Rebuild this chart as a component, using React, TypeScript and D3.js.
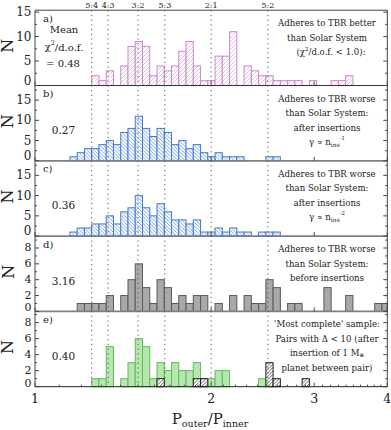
import React from "react";
import * as d3 from "d3";

// histogram bins: log-spaced, first bin starts at the 5:4 resonance
const binStart = -3;
const binLog = 0.0124;
const firstEdge = 1.25;

const countsA = [0, 0, 0, 2, 1, 3, 0, 4, 8, 9, 8, 2, 4, 3, 4, 7, 9, 4, 1, 1, 6, 6, 11, 0, 4, 3, 2, 2, 1, 1, 1, 1, 0, 1, 0, 0, 1, 1, 2, 0, 0, 0, 0, 0];
const countsB = [1, 2, 3, 3, 4, 5, 4, 7, 8, 11, 8, 6, 8, 7, 4, 5, 3, 4, 2, 1, 2, 1, 1, 1, 0, 0, 0, 1, 1, 0, 0, 0, 0, 0, 0, 0, 0, 0, 0, 0, 0, 0, 0, 0];
const countsC = [1, 2, 2, 3, 3, 5, 3, 6, 7, 10, 7, 5, 8, 6, 4, 4, 3, 4, 1, 1, 2, 1, 2, 1, 1, 0, 1, 1, 1, 0, 0, 0, 0, 0, 0, 0, 0, 0, 0, 0, 0, 0, 0, 0];
const countsD = [0, 1, 1, 1, 1, 2, 0, 2, 4, 6, 3, 1, 4, 3, 1, 2, 1, 2, 2, 0, 1, 0, 2, 0, 2, 1, 1, 4, 3, 0, 1, 1, 0, 0, 0, 3, 0, 0, 2, 0, 0, 0, 1, 1];
const countsE = [0, 0, 0, 1, 1, 5, 0, 1, 3, 6, 5, 1, 3, 2, 3, 2, 2, 3, 1, 1, 2, 2, 0, 0, 0, 0, 1, 0, 0, 0, 0, 0, 0, 0, 0, 0, 0, 0, 0, 0, 0, 0, 0, 0];
const countsEInserted = [0, 0, 0, 0, 0, 0, 0, 0, 0, 0, 0, 0, 1, 0, 0, 0, 0, 1, 1, 0, 0, 0, 0, 0, 0, 0, 0, 3, 1, 0, 0, 0, 1, 0, 0, 0, 0, 0, 0, 0, 0, 0, 0, 0];

const resonances = [5 / 4, 4 / 3, 3 / 2, 5 / 3, 2, 5 / 2];
const resonanceLabels = ["5:4", "4:3", "3:2", "5:3", "2:1", "5:2"];
const xTicks = [1, 2, 3, 4];
const meanChi = ["0.48", "0.27", "0.36", "3.16", "0.40"];

const left = 35;
const right = 387.3;
const top0 = 10.2;
const panelH = 75.3;
const serif = "DejaVu Serif";

const x = d3.scaleLog().domain([1, 4]).range([left, right]);
const edge = (k) => firstEdge * Math.pow(10, binLog * k);

const panels = [
  { id: "a", counts: countsA, yMax: 15.4, major: [0, 5, 10, 15], minor: 2.5, fill: "url(#hatchPink)", stroke: "#cf86cf", bottom: "#333", text: ["Adheres to TBR better", "than Solar System", "(χ²/d.o.f. < 1.0):"] },
  { id: "b", counts: countsB, yMax: 18.6, major: [0, 5, 10, 15], minor: 2.5, fill: "url(#hatchBlue)", stroke: "#3f7bd6", bottom: "#808080", text: ["Adheres to TBR worse", "than Solar System:", "after insertions", "gamma1"] },
  { id: "c", counts: countsC, yMax: 18.6, major: [0, 5, 10, 15], minor: 2.5, fill: "url(#hatchBlue)", stroke: "#3f7bd6", bottom: "#808080", text: ["Adheres to TBR worse", "than Solar System:", "after insertions", "gamma2"] },
  { id: "d", counts: countsD, yMax: 9.5, major: [0, 2, 4, 6, 8], minor: 1, fill: "#a9a9a9", stroke: "#5a5a5a", bottom: "#808080", text: ["Adheres to TBR worse", "than Solar System:", "before insertions"] },
  { id: "e", counts: countsE, yMax: 9.4, major: [0, 2, 4, 6, 8], minor: 1, fill: "#b7e7ae", stroke: "#5cbd5c", bottom: "#222", text: ["'Most complete' sample:", "Pairs with Δ < 10 (after", "insertion of 1 M⊕", "planet between pair)"] },
];

const Bars = ({ counts, y, fill, stroke, bottom }) => (
  <g>
    {counts.map((c, i) => {
      if (!c) return null;
      const k = binStart + i;
      const x0 = x(edge(k));
      const x1 = Math.min(x(edge(k + 1)), right);
      return (
        <rect key={i} x={x0} y={y(c)} width={x1 - x0} height={bottom - y(c)}
          fill={fill} stroke={stroke} strokeWidth={1} />
      );
    })}
  </g>
);

const TextLine = ({ line, x0, y0 }) => {
  if (line === "gamma1" || line === "gamma2") {
    return (
      <text x={x0} y={y0} textAnchor="middle" dominantBaseline="central" fontSize={8.6} fontFamily={serif} fill="#222">
        γ ∝ n<tspan fontSize={6} dy={2}>ins</tspan>
        <tspan fontSize={5.5} dy={-6}>{line === "gamma1" ? "-1" : "-2"}</tspan>
      </text>
    );
  }
  if (line.startsWith("(χ²")) {
    return (
      <text x={x0 + 4} y={y0} textAnchor="middle" dominantBaseline="central" fontSize={8.6} fontFamily={serif} fill="#222">
        (χ<tspan fontSize={5.5} dy={-3}>2</tspan><tspan dy={3}>/d.o.f. &lt; 1.0):</tspan>
      </text>
    );
  }
  if (line.includes("M⊕")) {
    return (
      <text x={x0} y={y0} textAnchor="middle" dominantBaseline="central" fontSize={8.6} fontFamily={serif} fill="#222">
        insertion of 1 M<tspan fontSize={5.5} dy={2}>⊕</tspan>
      </text>
    );
  }
  return (
    <text x={x0} y={y0} textAnchor="middle" dominantBaseline="central" fontSize={8.6} fontFamily={serif} fill="#222">
      {line}
    </text>
  );
};

const Panel = ({ p, i }) => {
  const top = top0 + i * panelH;
  const bottom = top + panelH;
  const y = d3.scaleLinear().domain([0, p.yMax]).range([bottom, top]);
  const minorTicks = d3.range(0, p.yMax, p.minor);
  const xMinor = d3.range(1.1, 4, 0.1).filter((v) => Math.abs(v - Math.round(v)) > 0.01);
  const small = p.minor === 1;
  const nY = top + panelH / 2 - 2;
  return (
    <g>
      <Bars counts={p.counts} y={y} fill={p.fill} stroke={p.stroke} bottom={bottom} />
      {p.id === "e" && (
        <Bars counts={countsEInserted} y={y} fill="url(#hatchBlack)" stroke="#222" bottom={bottom} />
      )}
      {/* frame */}
      <line x1={left} x2={left} y1={top} y2={bottom} stroke="#444" />
      <line x1={right} x2={right} y1={top} y2={bottom} stroke="#444" />
      {i === 0 && <line x1={left} x2={right} y1={top} y2={top} stroke="#444" />}
      <line x1={left} x2={right} y1={bottom} y2={bottom} stroke={p.bottom} strokeWidth={p.bottom === "#808080" ? 1.8 : 1} />
      {/* y ticks */}
      {minorTicks.map((t) => (
        <g key={"m" + t}>
          <line x1={left} x2={left + (p.major.includes(t) ? 4 : 2)} y1={y(t)} y2={y(t)} stroke="#444" />
          <line x1={right} x2={right - (p.major.includes(t) ? 4 : 2)} y1={y(t)} y2={y(t)} stroke="#444" />
        </g>
      ))}
      {p.major.map((t) => (
        <text key={t} x={31.5} y={t === 0 ? y(t) - (small ? 3.5 : 5) : y(t)} textAnchor="end" dominantBaseline="central"
          fontSize={small ? 11 : 12} fontFamily={serif} fill="#222">
          {t}
        </text>
      ))}
      {/* x ticks on the panel bottom */}
      {xTicks.map((t) => (
        <line key={t} x1={x(t)} x2={x(t)} y1={bottom} y2={bottom - 4} stroke="#444" />
      ))}
      {i === 4 && xMinor.map((t) => (
        <line key={t} x1={x(t)} x2={x(t)} y1={bottom} y2={bottom - 2} stroke="#444" />
      ))}
      <text x={13.5} y={nY} transform={`rotate(-90,13.5,${nY})`} textAnchor="middle"
        fontSize={16} fontFamily={serif} fill="#222">
        N
      </text>
      <text x={43} y={top + 8} dominantBaseline="central" fontSize={10} fontFamily={serif} fill="#222">
        {p.id + ")"}
      </text>
      {i === 0 ? (
        <g fontFamily={serif} fontSize={10} fill="#222">
          <text x={64} y={29.3} textAnchor="middle" dominantBaseline="central">Mean</text>
          <text x={64} y={46.7} textAnchor="middle" dominantBaseline="central">
            χ<tspan fontSize={6.5} dy={-4}>2</tspan><tspan dy={4}>/d.o.f.</tspan>
          </text>
          <text x={63} y={63.3} textAnchor="middle" dominantBaseline="central">= {meanChi[0]}</text>
        </g>
      ) : (
        <text x={63.5} y={top + 44.5} textAnchor="middle" dominantBaseline="central" fontSize={10.5} fontFamily={serif} fill="#222">
          {meanChi[i]}
        </text>
      )}
      {p.text.map((line, j) => (
        <TextLine key={j} line={line} x0={327} y0={top + 13 + j * 14.5} />
      ))}
    </g>
  );
};

export default function App() {
  const bottomAll = top0 + 5 * panelH;
  return (
    <svg width={391} height={430} style={{ position: "absolute", left: 0, top: 0 }}>
      <defs>
        <pattern id="hatchPink" patternUnits="userSpaceOnUse" width={4} height={4}>
          <rect width={4} height={4} fill="#fff" />
          <path d="M-1,1 l2,-2 M0,4 l4,-4 M3,5 l2,-2" stroke="#e4ade4" strokeWidth={0.8} />
        </pattern>
        <pattern id="hatchBlue" patternUnits="userSpaceOnUse" width={3.5} height={3.5}>
          <rect width={3.5} height={3.5} fill="#fff" />
          <path d="M-1,2.5 l2,2 M0,0 l3.5,3.5 M2.5,-1 l2,2" stroke="#5b8fe0" strokeWidth={0.8} />
        </pattern>
        <pattern id="hatchBlack" patternUnits="userSpaceOnUse" width={3.5} height={3.5}>
          <rect width={3.5} height={3.5} fill="#fff" />
          <path d="M-1,1 l2,-2 M0,3.5 l3.5,-3.5 M2.5,4.5 l2,-2" stroke="#222" strokeWidth={0.7} />
        </pattern>
      </defs>
      <rect width={391} height={430} fill="#fff" />
      {panels.map((p, i) => (
        <Panel key={p.id} p={p} i={i} />
      ))}
      {/* resonance lines */}
      {resonances.map((r, i) => (
        <g key={i}>
          <line x1={x(r)} x2={x(r)} y1={top0} y2={bottomAll} stroke="#555" strokeWidth={1} strokeDasharray="1.2,3.5" />
          <text x={x(r)} y={5} textAnchor="middle" dominantBaseline="central" fontSize={8} fontFamily={serif} fill="#222">
            {resonanceLabels[i]}
          </text>
        </g>
      ))}
      {xTicks.map((t) => (
        <text key={t} x={x(t)} y={398.5} textAnchor="middle" dominantBaseline="central" fontSize={12.5} fontFamily={serif} fill="#222">
          {t}
        </text>
      ))}
      <text x={210} y={424} textAnchor="middle" fontSize={15} fontFamily={serif} fill="#222">
        P<tspan fontSize={9.5} dy={3}>outer</tspan><tspan dy={-3}>/P</tspan><tspan fontSize={9.5} dy={3}>inner</tspan>
      </text>
    </svg>
  );
}
